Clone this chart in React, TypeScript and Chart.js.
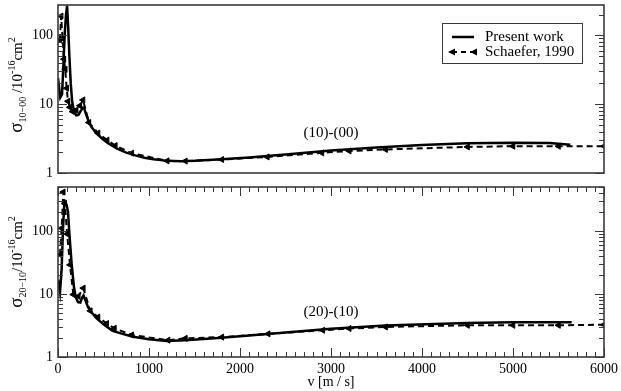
import React, { useEffect, useRef } from 'react';
import { Chart, registerables } from 'chart.js';
Chart.register(...registerables);

const FONT = '"Liberation Serif", "DejaVu Serif", serif';

// x axis
const xTickValues = [0, 1000, 2000, 3000, 4000, 5000, 6000];
const yTickLabels = [1, 10, 100];

// (10)-(00) present work
const topPresentV = [0, 25, 45, 60, 75, 88, 100, 112, 125, 140, 155, 175, 200, 225, 250, 275, 290, 310, 340, 370, 420, 480, 550, 650, 750, 850, 950, 1050, 1200, 1350, 1500, 1800, 2100, 2500, 3000, 3500, 4000, 4500, 5000, 5400, 5630];
const topPresentS = [24, 12.5, 14, 40, 110, 200, 270, 130, 50, 20, 11, 8, 6.9, 7.0, 8.0, 8.9, 8.5, 7.0, 5.5, 4.6, 3.8, 3.2, 2.7, 2.25, 1.98, 1.80, 1.67, 1.58, 1.50, 1.48, 1.50, 1.58, 1.68, 1.85, 2.12, 2.35, 2.55, 2.70, 2.76, 2.72, 2.58];
// (10)-(00) Schaefer 1990
const topSchaeferV = [20, 35, 50, 65, 80, 95, 110, 130, 160, 200, 240, 275, 340, 440, 540, 630, 810, 1200, 1400, 1800, 2300, 2900, 3200, 3600, 4500, 5000, 5500, 6000];
const topSchaeferS = [85, 190, 90, 45, 32, 17, 11, 9, 7.8, 8.2, 9.5, 11.5, 5.4, 3.8, 3.0, 2.5, 1.94, 1.50, 1.49, 1.57, 1.71, 1.96, 2.09, 2.20, 2.39, 2.45, 2.45, 2.45];

// (20)-(10) present work
const botPresentV = [0, 22, 40, 55, 68, 80, 95, 110, 125, 150, 175, 195, 220, 245, 265, 280, 300, 330, 370, 425, 500, 600, 700, 824, 1000, 1194, 1400, 1800, 2300, 3000, 3600, 4500, 5000, 5645];
const botPresentS = [16.9, 10.6, 25, 110, 250, 275, 260, 200, 90, 30, 13, 9, 7.4, 7.3, 8.8, 9.5, 8.0, 6.2, 5.1, 4.1, 3.3, 2.6, 2.35, 2.1, 1.92, 1.80, 1.84, 2.03, 2.32, 2.82, 3.15, 3.48, 3.56, 3.56];
// (20)-(10) Schaefer 1990
const botSchaeferV = [22, 40, 58, 75, 100, 132, 168, 223, 278, 355, 440, 535, 620, 810, 1210, 1400, 1800, 2310, 2910, 3200, 3600, 4500, 5000, 5500, 6000];
const botSchaeferS = [42, 111, 416, 275, 90, 29, 9.8, 9.2, 12.4, 5.4, 4.3, 3.4, 2.86, 2.24, 1.85, 1.98, 2.07, 2.33, 2.66, 2.83, 3.0, 3.19, 3.19, 3.19, 3.25];

const pts = (v: number[], s: number[]) => v.map((x, i) => ({ x, y: s[i] }));

type Part = { t: string; size: number; dy: number };

function drawRich(ctx: CanvasRenderingContext2D, parts: Part[], bx: number, cy: number) {
  ctx.save();
  let total = 0;
  const widths = parts.map((p) => {
    ctx.font = `${p.size}px ${FONT}`;
    const w = ctx.measureText(p.t).width;
    total += w;
    return w;
  });
  ctx.translate(bx, cy);
  ctx.rotate(-Math.PI / 2);
  ctx.fillStyle = '#000';
  ctx.textBaseline = 'alphabetic';
  ctx.textAlign = 'left';
  let u = -total / 2;
  parts.forEach((p, i) => {
    ctx.font = `${p.size}px ${FONT}`;
    ctx.fillText(p.t, u, p.dy);
    u += widths[i];
  });
  ctx.restore();
}

function makeDecor(cfg: {
  xTicks: boolean;
  title: Part[];
  titleX: number;
  titleY: number;
  note: string;
  noteX: number;
  noteY: number;
  legend: boolean;
}) {
  return {
    id: 'decor',
    afterDraw(chart: any) {
      const { ctx, chartArea: a, scales } = chart;
      const xs = scales.x;
      const ys = scales.y;
      ctx.save();
      ctx.strokeStyle = '#3a3a3a';
      ctx.lineWidth = 1;
      const line = (x1: number, y1: number, x2: number, y2: number) => {
        ctx.beginPath();
        ctx.moveTo(x1, y1);
        ctx.lineTo(x2, y2);
        ctx.stroke();
      };
      for (let e = 0; e < 3; e++) {
        for (let m = 1; m <= 9; m++) {
          const v = m * Math.pow(10, e);
          if (v < ys.min || v > ys.max) continue;
          const py = Math.round(ys.getPixelForValue(v)) + 0.5;
          const len = m === 1 ? 9 : 5;
          line(a.left, py, a.left + len, py);
          line(a.right, py, a.right - len, py);
        }
      }
      if (cfg.xTicks) {
        for (let v = 0; v <= 6000; v += 100) {
          const px = Math.round(xs.getPixelForValue(v)) + 0.5;
          const len = v % 1000 === 0 ? 9 : 5;
          line(px, a.bottom, px, a.bottom - len);
          line(px, a.top, px, a.top + len);
        }
      }
      ctx.lineWidth = 1.6;
      ctx.strokeRect(a.left, a.top, a.right - a.left, a.bottom - a.top);

      drawRich(ctx, cfg.title, cfg.titleX, cfg.titleY);

      ctx.fillStyle = '#000';
      ctx.font = `15px ${FONT}`;
      ctx.textAlign = 'center';
      ctx.textBaseline = 'middle';
      ctx.fillText(cfg.note, xs.getPixelForValue(cfg.noteX), ys.getPixelForValue(cfg.noteY));

      if (cfg.legend) {
        const bx = 442, by = 23, bw = 140, bh = 40;
        ctx.fillStyle = '#fff';
        ctx.fillRect(bx, by, bw, bh);
        ctx.strokeStyle = '#3a3a3a';
        ctx.lineWidth = 1;
        ctx.strokeRect(bx + 0.5, by + 0.5, bw, bh);
        ctx.strokeStyle = '#000';
        ctx.lineWidth = 2.5;
        line(452, 37, 474, 37);
        ctx.lineWidth = 2;
        ctx.setLineDash([5, 4]);
        line(452, 52, 474, 52);
        ctx.setLineDash([]);
        ctx.fillStyle = '#000';
        const tri = (x: number, y: number) => {
          ctx.beginPath();
          ctx.moveTo(x - 4, y);
          ctx.lineTo(x + 3, y - 3.5);
          ctx.lineTo(x + 3, y + 3.5);
          ctx.closePath();
          ctx.fill();
        };
        tri(452, 52);
        tri(474, 52);
        ctx.font = `15px ${FONT}`;
        ctx.textAlign = 'left';
        ctx.textBaseline = 'middle';
        ctx.fillText('Present work', 485, 37);
        ctx.fillText('Schaefer, 1990', 485, 52);
      }
      ctx.restore();
    },
  };
}

function makeConfig(
  present: { x: number; y: number }[],
  schaefer: { x: number; y: number }[],
  yMax: number,
  bottom: boolean,
  padTop: number,
  plugin: any
): any {
  return {
    type: 'line',
    data: {
      datasets: [
        {
          label: 'Present work',
          data: present,
          borderColor: '#000',
          borderWidth: 2.5,
          pointRadius: 0,
          tension: 0,
          fill: false,
        },
        {
          label: 'Schaefer, 1990',
          data: schaefer,
          borderColor: '#000',
          backgroundColor: '#000',
          borderWidth: 2,
          borderDash: [6, 4],
          pointStyle: 'triangle',
          rotation: -90,
          pointRadius: 3.5,
          pointBorderWidth: 1,
          tension: 0,
          fill: false,
        },
      ],
    },
    options: {
      animation: false,
      responsive: false,
      maintainAspectRatio: false,
      layout: { padding: { top: padTop, right: 17, bottom: bottom ? 0 : 7, left: 0 } },
      plugins: { legend: { display: false }, tooltip: { enabled: false } },
      scales: {
        x: {
          type: 'linear',
          min: 0,
          max: 6000,
          display: bottom,
          grid: { display: false, drawTicks: false },
          border: { display: false },
          afterBuildTicks: (s: any) => {
            s.ticks = xTickValues.map((v) => ({ value: v }));
          },
          afterFit: (s: any) => {
            s.height = bottom ? 34 : 0;
            s.paddingLeft = 0;
            s.paddingRight = 0;
          },
          ticks: {
            autoSkip: false,
            maxRotation: 0,
            padding: 4,
            color: '#000',
            font: { family: FONT, size: 14 },
            callback: (v: any) => String(v),
          },
          title: {
            display: true,
            text: 'v [m / s]',
            color: '#000',
            padding: { top: 0, bottom: 0 },
            font: { family: FONT, size: 14 },
          },
        },
        y: {
          type: 'logarithmic',
          min: 1,
          max: yMax,
          grid: { display: false, drawTicks: false },
          border: { display: false },
          afterBuildTicks: (s: any) => {
            s.ticks = yTickLabels.map((v) => ({ value: v }));
          },
          afterFit: (s: any) => {
            s.width = 58;
            s.paddingTop = 0;
            s.paddingBottom = 0;
          },
          ticks: {
            padding: 5,
            color: '#000',
            font: { family: FONT, size: 14 },
            callback: (v: any) => String(v),
          },
        },
      },
    },
    plugins: [plugin],
  };
}

export default function App() {
  const topRef = useRef<HTMLCanvasElement>(null);
  const botRef = useRef<HTMLCanvasElement>(null);

  useEffect(() => {
    const topPlugin = makeDecor({
      xTicks: false,
      title: [
        { t: 'σ', size: 19, dy: 0 },
        { t: '10−00', size: 10, dy: 4 },
        { t: ' /10', size: 15, dy: 0 },
        { t: '-16', size: 10, dy: -7 },
        { t: 'cm', size: 15, dy: 0 },
        { t: '2', size: 10, dy: -7 },
      ],
      titleX: 22,
      titleY: 85,
      note: '(10)-(00)',
      noteX: 3000,
      noteY: 3.8,
      legend: true,
    });
    const botPlugin = makeDecor({
      xTicks: true,
      title: [
        { t: 'σ', size: 19, dy: 0 },
        { t: '20−10', size: 10, dy: 4 },
        { t: '/10', size: 15, dy: 0 },
        { t: '-16', size: 10, dy: -7 },
        { t: 'cm', size: 15, dy: 0 },
        { t: '2', size: 10, dy: -7 },
      ],
      titleX: 22,
      titleY: 82,
      note: '(20)-(10)',
      noteX: 3000,
      noteY: 5.2,
      legend: false,
    });
    const topCfg = makeConfig(pts(topPresentV, topPresentS), pts(topSchaeferV, topSchaeferS), 275, false, 4, topPlugin);
    const botCfg = makeConfig(pts(botPresentV, botPresentS), pts(botSchaeferV, botSchaeferS), 500, true, 7, botPlugin);
    const c1 = new Chart(topRef.current as HTMLCanvasElement, topCfg);
    const c2 = new Chart(botRef.current as HTMLCanvasElement, botCfg);
    return () => {
      c1.destroy();
      c2.destroy();
    };
  }, []);

  return (
    <div style={{ position: 'absolute', left: 0, top: 0, width: 621, height: 391, background: '#fff' }}>
      <canvas ref={topRef} width={621} height={180} style={{ position: 'absolute', left: 0, top: 0, width: 621, height: 180 }} />
      <canvas ref={botRef} width={621} height={211} style={{ position: 'absolute', left: 0, top: 180, width: 621, height: 211 }} />
    </div>
  );
}
